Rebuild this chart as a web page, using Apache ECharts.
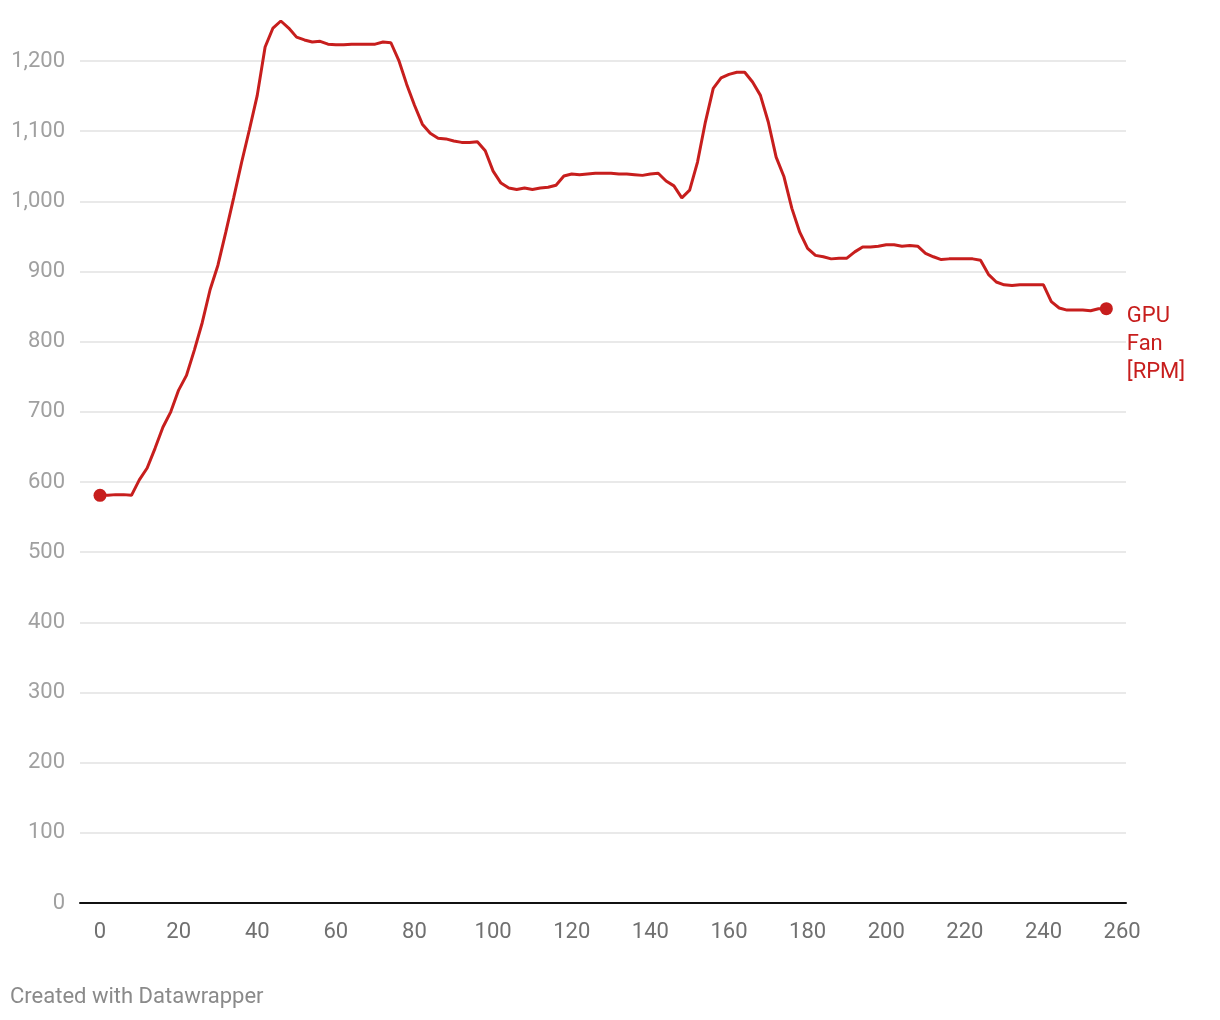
<!DOCTYPE html>
<html>
<head>
<meta charset="utf-8">
<script src="https://cdn.jsdelivr.net/npm/echarts@6/dist/echarts.min.js"></script>
<style>
html,body{margin:0;padding:0;background:#fff;}
#c{width:1220px;height:1020px;}
</style>
</head>
<body>
<div id="c"></div>
<script>
const xValues = [];
for (let i = 0; i <= 128; i++) xValues.push(i * 2);
const fanRPM = [
581,581,582,582,581,603,620,648,678,700,
731,752,788,827,874,909,956,1005,1055,1102,
1151,1220,1247,1257,1247,1234,1230,1227,1228,1224,
1223,1223,1224,1224,1224,1224,1227,1226,1201,1167,
1137,1110,1097,1090,1089,1086,1084,1084,1085,1072,
1043,1026,1019,1017,1019,1017,1019,1020,1023,1036,
1039,1038,1039,1040,1040,1040,1039,1039,1038,1037,
1039,1040,1029,1022,1005,1016,1056,1113,1161,1176,
1181,1184,1184,1170,1151,1113,1063,1035,990,956,
933,923,921,918,919,919,928,935,935,936,
938,938,936,937,936,926,921,917,918,918,
918,918,916,896,885,881,880,881,881,881,
881,857,848,845,845,845,844,847,847
];
const xTicks = [0,20,40,60,80,100,120,140,160,180,200,220,240,260];
const seriesName = 'GPU\nFan\n[RPM]';

const lineData = xValues.map((x, i) => [x, fanRPM[i]]);
const last = lineData.length - 1;
const RED = '#c71e1d';

const chart = echarts.init(document.getElementById('c'));
chart.setOption({
  animation: false,
  grid: { left: 80, right: 94, top: 61, bottom: 117, containLabel: false },
  xAxis: {
    type: 'value', min: -5.09, max: 261,
    splitLine: { show: false },
    axisTick: { show: false },
    axisLine: { show: true, onZero: false, lineStyle: { color: '#111', width: 2 } },
    axisLabel: { customValues: xTicks, color: '#707070', fontSize: 22, fontFamily: 'Roboto', margin: 18 }
  },
  yAxis: {
    type: 'value', min: 0, max: 1200, interval: 100,
    axisLine: { show: false }, axisTick: { show: false },
    splitLine: { lineStyle: { color: '#e2e2e2', width: 1.5 } },
    axisLabel: {
      color: '#a0a0a0', fontSize: 22, fontFamily: 'Roboto', margin: 15,
      formatter: v => v.toLocaleString('en-US')
    }
  },
  series: [
    {
      type: 'line', data: lineData, clip: false, symbol: 'none',
      lineStyle: { color: RED, width: 3 }
    },
    {
      type: 'scatter', clip: false, symbolSize: 13,
      itemStyle: { color: RED, opacity: 1 },
      data: [
        { value: lineData[0] },
        { value: lineData[last], label: {
            show: true, formatter: seriesName, position: [27, 0],
            align: 'left', verticalAlign: 'top', lineHeight: 28,
            color: RED, fontSize: 22, fontFamily: 'Roboto'
        } }
      ]
    }
  ],
  graphic: [{
    type: 'text', left: 10, top: 986,
    style: { text: 'Created with Datawrapper', fill: '#8a8a8a', fontSize: 22, fontFamily: 'Roboto' }
  }]
});
</script>
</body>
</html>
